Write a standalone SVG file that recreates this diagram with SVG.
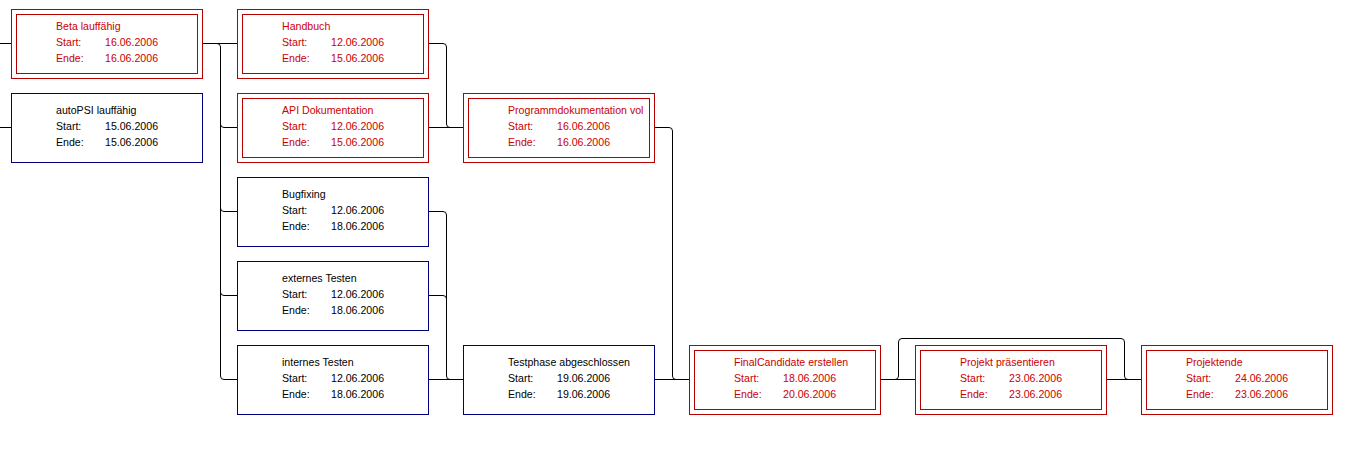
<svg xmlns="http://www.w3.org/2000/svg" width="1357" height="474" viewBox="0 0 1357 474">
<style>
.bg{fill:#ffffff}
.o{fill:#ffffff;stroke:#b40000;stroke-width:1}
.i{fill:none;stroke:#b40000;stroke-width:1}
.b{fill:#ffffff;stroke:#000080;stroke-width:1}
text{font-family:"Liberation Sans",Arial,sans-serif;font-size:10.6px}
.r text{fill:#cc0000}
.k text{fill:#000000}
.c path{fill:none;stroke:#000000;stroke-width:1}
</style>
<rect class="bg" x="0" y="0" width="1357" height="474"/>
<g class="c" id="connectors">
<path d="M0,43.5 H11"/>
<path d="M0,127.5 H11"/>
<path d="M202,43.5 H237"/>
<path d="M217,43.5 Q220.5,43.5 220.5,47 V376 Q220.5,379.5 224,379.5 H237"/>
<path d="M220.5,124 Q220.5,127.5 224,127.5 H237"/>
<path d="M220.5,208 Q220.5,211.5 224,211.5 H237"/>
<path d="M220.5,292 Q220.5,295.5 224,295.5 H237"/>
<path d="M428,43.5 H443 Q446.5,43.5 446.5,47 V124 Q446.5,127.5 450,127.5 H463"/>
<path d="M428,127.5 H463"/>
<path d="M428,211.5 H443 Q446.5,211.5 446.5,215 V376 Q446.5,379.5 450,379.5 H463"/>
<path d="M428,295.5 H443 Q446.5,295.5 446.5,299"/>
<path d="M428,379.5 H463"/>
<path d="M654,127.5 H669 Q672.5,127.5 672.5,131 V376 Q672.5,379.5 676,379.5 H689"/>
<path d="M654,379.5 H689"/>
<path d="M880,379.5 H915"/>
<path d="M895,379.5 Q898.5,379.5 898.5,376 V342 Q898.5,338.5 902,338.5 H1121 Q1124.5,338.5 1124.5,342 V376 Q1124.5,379.5 1128,379.5 H1141"/>
<path d="M1106,379.5 H1141"/>
</g>
<g id="beta" class="r">
<rect class="o" x="11.5" y="9.5" width="191" height="69"/><rect class="i" x="16.5" y="14.5" width="181" height="59"/>
<text x="56" y="29.5">Beta lauffähig</text><text x="56" y="45.5">Start:</text><text x="105" y="45.5">16.06.2006</text><text x="56" y="61.5">Ende:</text><text x="105" y="61.5">16.06.2006</text>
</g>
<g id="autopsi" class="k">
<rect class="b" x="11.5" y="93.5" width="191" height="69"/>
<text x="56" y="113.5">autoPSI lauffähig</text><text x="56" y="129.5">Start:</text><text x="105" y="129.5">15.06.2006</text><text x="56" y="145.5">Ende:</text><text x="105" y="145.5">15.06.2006</text>
</g>
<g id="handbuch" class="r">
<rect class="o" x="237.5" y="9.5" width="191" height="69"/><rect class="i" x="242.5" y="14.5" width="181" height="59"/>
<text x="282" y="29.5">Handbuch</text><text x="282" y="45.5">Start:</text><text x="331" y="45.5">12.06.2006</text><text x="282" y="61.5">Ende:</text><text x="331" y="61.5">15.06.2006</text>
</g>
<g id="api" class="r">
<rect class="o" x="237.5" y="93.5" width="191" height="69"/><rect class="i" x="242.5" y="98.5" width="181" height="59"/>
<text x="282" y="113.5">API Dokumentation</text><text x="282" y="129.5">Start:</text><text x="331" y="129.5">12.06.2006</text><text x="282" y="145.5">Ende:</text><text x="331" y="145.5">15.06.2006</text>
</g>
<g id="bugfixing" class="k">
<rect class="b" x="237.5" y="177.5" width="191" height="69"/>
<text x="282" y="197.5">Bugfixing</text><text x="282" y="213.5">Start:</text><text x="331" y="213.5">12.06.2006</text><text x="282" y="229.5">Ende:</text><text x="331" y="229.5">18.06.2006</text>
</g>
<g id="externes" class="k">
<rect class="b" x="237.5" y="261.5" width="191" height="69"/>
<text x="282" y="281.5">externes Testen</text><text x="282" y="297.5">Start:</text><text x="331" y="297.5">12.06.2006</text><text x="282" y="313.5">Ende:</text><text x="331" y="313.5">18.06.2006</text>
</g>
<g id="internes" class="k">
<rect class="b" x="237.5" y="345.5" width="191" height="69"/>
<text x="282" y="365.5">internes Testen</text><text x="282" y="381.5">Start:</text><text x="331" y="381.5">12.06.2006</text><text x="282" y="397.5">Ende:</text><text x="331" y="397.5">18.06.2006</text>
</g>
<g id="programmdoku" class="r">
<rect class="o" x="463.5" y="93.5" width="191" height="69"/><rect class="i" x="468.5" y="98.5" width="181" height="59"/>
<text x="508" y="113.5">Programmdokumentation vol</text><text x="508" y="129.5">Start:</text><text x="557" y="129.5">16.06.2006</text><text x="508" y="145.5">Ende:</text><text x="557" y="145.5">16.06.2006</text>
</g>
<g id="testphase" class="k">
<rect class="b" x="463.5" y="345.5" width="191" height="69"/>
<text x="508" y="365.5">Testphase abgeschlossen</text><text x="508" y="381.5">Start:</text><text x="557" y="381.5">19.06.2006</text><text x="508" y="397.5">Ende:</text><text x="557" y="397.5">19.06.2006</text>
</g>
<g id="finalcandidate" class="r">
<rect class="o" x="689.5" y="345.5" width="191" height="69"/><rect class="i" x="694.5" y="350.5" width="181" height="59"/>
<text x="734" y="365.5">FinalCandidate erstellen</text><text x="734" y="381.5">Start:</text><text x="783" y="381.5">18.06.2006</text><text x="734" y="397.5">Ende:</text><text x="783" y="397.5">20.06.2006</text>
</g>
<g id="praesentieren" class="r">
<rect class="o" x="915.5" y="345.5" width="191" height="69"/><rect class="i" x="920.5" y="350.5" width="181" height="59"/>
<text x="960" y="365.5">Projekt präsentieren</text><text x="960" y="381.5">Start:</text><text x="1009" y="381.5">23.06.2006</text><text x="960" y="397.5">Ende:</text><text x="1009" y="397.5">23.06.2006</text>
</g>
<g id="projektende" class="r">
<rect class="o" x="1141.5" y="345.5" width="191" height="69"/><rect class="i" x="1146.5" y="350.5" width="181" height="59"/>
<text x="1186" y="365.5">Projektende</text><text x="1186" y="381.5">Start:</text><text x="1235" y="381.5">24.06.2006</text><text x="1186" y="397.5">Ende:</text><text x="1235" y="397.5">23.06.2006</text>
</g>
</svg>
